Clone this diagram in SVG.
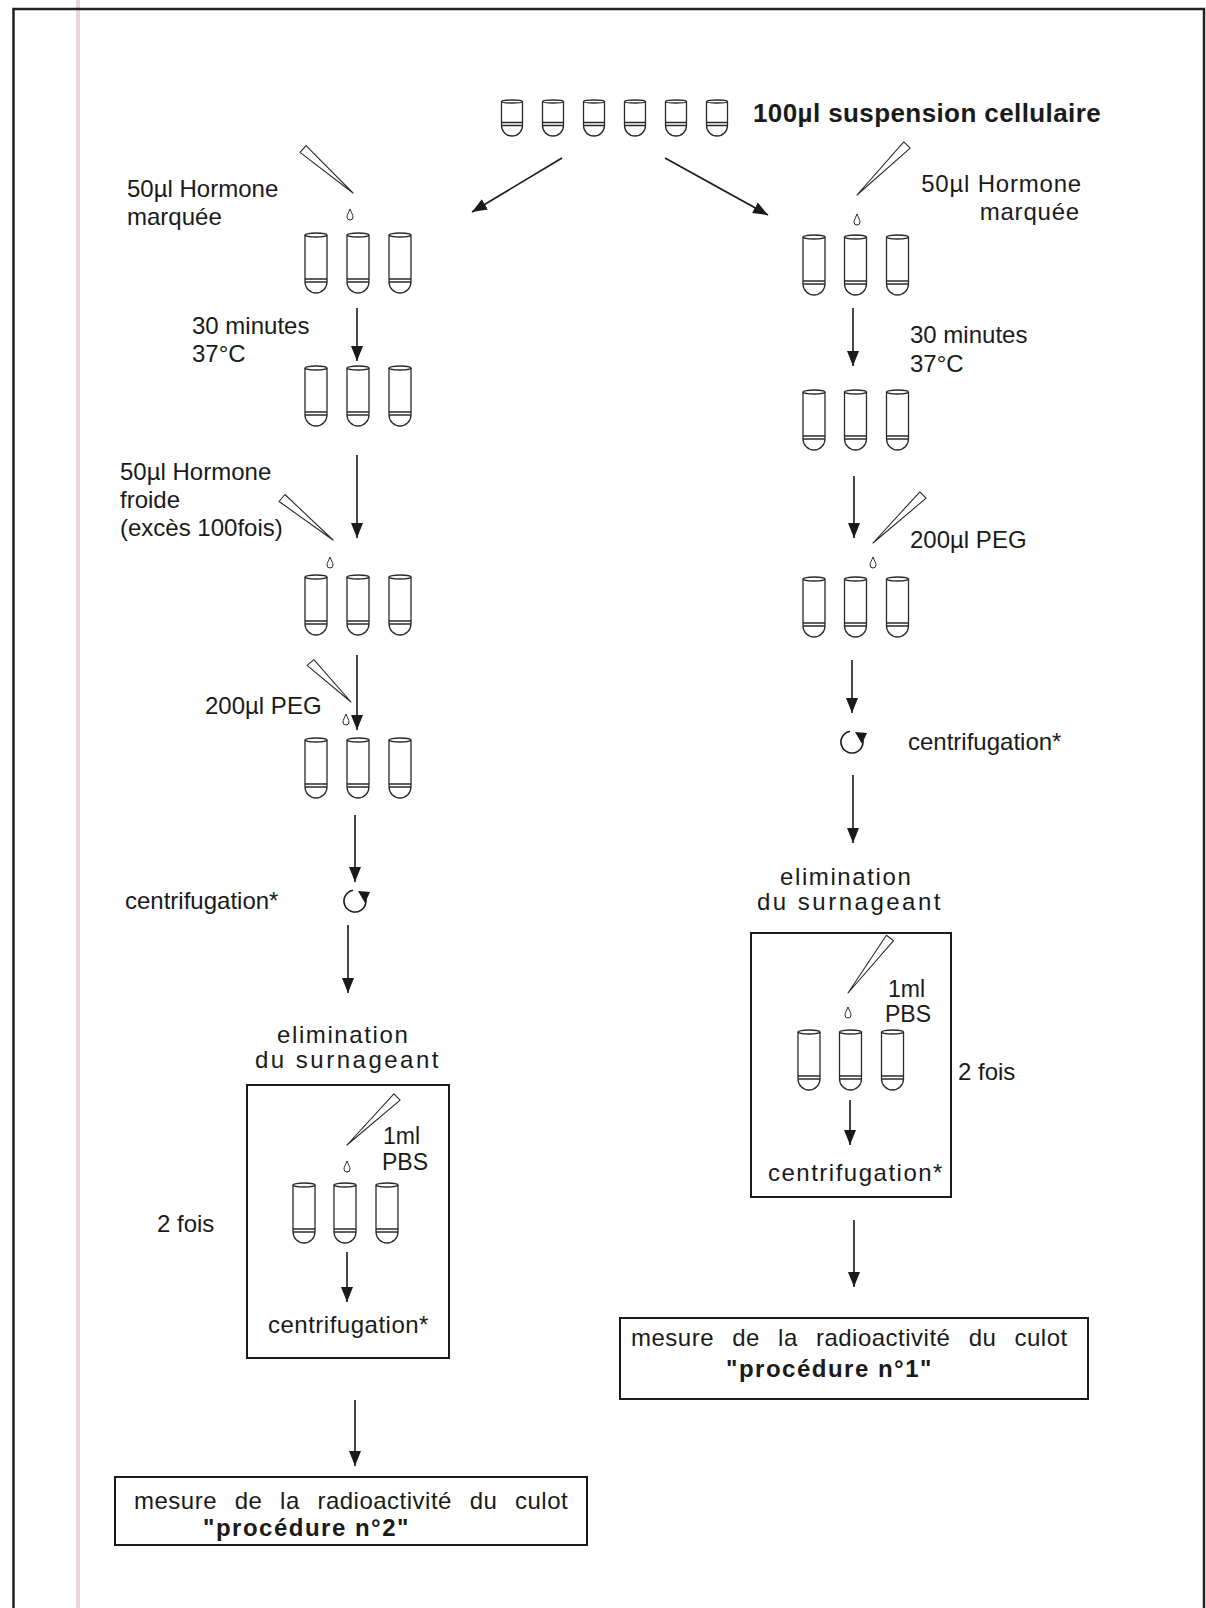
<svg xmlns="http://www.w3.org/2000/svg" xmlns:xlink="http://www.w3.org/1999/xlink" width="1206" height="1608" viewBox="0 0 1206 1608">
<style>
text{font-family:"Liberation Sans",Arial,sans-serif;font-size:24px;fill:#1a1a1a}
.b{font-weight:bold}
.s{font-size:23px}
.tube ellipse,.tube path{fill:none;stroke:#2a2a2a;stroke-width:1.3}
.pip{fill:#fff;stroke:#2a2a2a;stroke-width:1.1;stroke-linejoin:round}
.drop{fill:none;stroke:#2a2a2a;stroke-width:1}
.conn line,.conn path{stroke:#1a1a1a;stroke-width:1.6;fill:none}
.box{fill:none;stroke:#1a1a1a;stroke-width:2}
.cf{fill:none;stroke:#1a1a1a;stroke-width:1.6}
</style>
<defs>
<marker id="ah" markerUnits="userSpaceOnUse" markerWidth="16" markerHeight="12" refX="15" refY="6" orient="auto">
<path d="M0,0 L15,6 L0,12 Z" fill="#1a1a1a"/>
</marker>
<g id="tube" class="tube">
<ellipse cx="0" cy="2" rx="11" ry="2"/>
<path d="M-11,2 V49 A11,11 0 0 0 11,49 V2"/>
<path d="M-11,46 H11 M-11,49 H11"/>
</g>
<g id="tubeS" class="tube">
<ellipse cx="0" cy="1.5" rx="10.5" ry="1.5"/>
<path d="M-10.5,1.5 V25.5 A10.5,10.5 0 0 0 10.5,25.5 V1.5"/>
<path d="M-10.5,22.5 H10.5 M-10.5,25.5 H10.5"/>
</g>
<path id="drop" class="drop" d="M0,-6 C1.5,-2 3,0 3,2 A3,3 0 0 1 -3,2 C-3,0 -1.5,-2 0,-6 Z"/>
<g id="cfg">
<path class="cf" d="M8,-7.5 A11,11 0 1 1 -2,-10.8"/>
<path d="M3,-10 L15,-9 L10,2 Z" fill="#1a1a1a"/>
</g>
</defs>

<rect x="0" y="0" width="1206" height="1608" fill="#fff"/>
<rect x="76" y="0" width="4" height="1608" fill="#ead6d6"/>
<path d="M13.5,1608 V9 H1204 V1608" fill="none" stroke="#222" stroke-width="2.5"/>

<g id="start">
<use href="#tubeS" x="512" y="100"/>
<use href="#tubeS" x="553" y="100"/>
<use href="#tubeS" x="594" y="100"/>
<use href="#tubeS" x="635" y="100"/>
<use href="#tubeS" x="676" y="100"/>
<use href="#tubeS" x="717" y="100"/>
<text class="b" x="753" y="122" style="font-size:26px;letter-spacing:0.4px">100µl suspension cellulaire</text>
</g>

<g id="left-hormone">
<text x="127" y="197">50µl Hormone</text>
<text x="127" y="225">marquée</text>
<polygon class="pip" points="306,145.6 353,193 300,152.4"/>
<use href="#drop" x="350" y="215"/>
<use href="#tube" x="316" y="233"/>
<use href="#tube" x="358" y="233"/>
<use href="#tube" x="400" y="233"/>
</g>

<g id="left-incubation">
<text x="192" y="334">30 minutes</text>
<text x="192" y="362">37°C</text>
<use href="#tube" x="316" y="366"/>
<use href="#tube" x="358" y="366"/>
<use href="#tube" x="400" y="366"/>
</g>

<g id="left-froide">
<text x="120" y="480">50µl Hormone</text>
<text x="120" y="508">froide</text>
<text x="120" y="536">(excès 100fois)</text>
<polygon class="pip" points="284.9,494.5 333,540 279.1,501.5"/>
<use href="#drop" x="330" y="563"/>
<use href="#tube" x="316" y="575"/>
<use href="#tube" x="358" y="575"/>
<use href="#tube" x="400" y="575"/>
</g>

<g id="left-peg">
<text x="205" y="714">200µl PEG</text>
<polygon class="pip" points="313.9,659.6 351,702 307.1,665.4"/>
<use href="#drop" x="346" y="720"/>
<use href="#tube" x="316" y="738"/>
<use href="#tube" x="358" y="738"/>
<use href="#tube" x="400" y="738"/>
</g>

<g id="left-centrifugation">
<use href="#cfg" x="355" y="901"/>
<text x="125" y="909">centrifugation*</text>
</g>

<g id="left-elimination">
<text x="277" y="1043" style="letter-spacing:1.6px">elimination</text>
<text x="255" y="1068" style="letter-spacing:2.5px">du surnageant</text>
</g>

<g id="left-wash">
<rect class="box" x="247" y="1085" width="202" height="273"/>
<polygon class="pip" points="393.9,1093.8 347,1145 400.1,1100.2"/>
<text class="s" x="383" y="1144">1ml</text>
<text class="s" x="382" y="1170">PBS</text>
<use href="#drop" x="347" y="1167"/>
<use href="#tube" x="304" y="1183"/>
<use href="#tube" x="345" y="1183"/>
<use href="#tube" x="387" y="1183"/>
<text x="268" y="1333" style="letter-spacing:0.5px">centrifugation*</text>
<text x="157" y="1232">2 fois</text>
</g>

<g id="left-result">
<rect class="box" x="115" y="1477" width="472" height="68"/>
<text x="134" y="1509" style="letter-spacing:0.5px;word-spacing:10.5px">mesure de la radioactivité du culot</text>
<text class="b" x="203" y="1536" style="letter-spacing:1.5px">"procédure n°2"</text>
</g>

<g id="right-hormone">
<text x="1082" y="192" text-anchor="end" style="letter-spacing:0.8px">50µl Hormone</text>
<text x="1080" y="220" text-anchor="end" style="letter-spacing:0.8px">marquée</text>
<polygon class="pip" points="903.8,141.8 857,195 910.2,148.2"/>
<use href="#drop" x="857" y="220"/>
<use href="#tube" x="814" y="235"/>
<use href="#tube" x="855.5" y="235"/>
<use href="#tube" x="897.5" y="235"/>
</g>

<g id="right-incubation">
<text x="910" y="343">30 minutes</text>
<text x="910" y="372">37°C</text>
<use href="#tube" x="814" y="390"/>
<use href="#tube" x="855.5" y="390"/>
<use href="#tube" x="897.5" y="390"/>
</g>

<g id="right-peg">
<polygon class="pip" points="919.9,491.8 873,543 926.1,498.2"/>
<text x="910" y="548">200µl PEG</text>
<use href="#drop" x="873" y="563"/>
<use href="#tube" x="814" y="577"/>
<use href="#tube" x="855.5" y="577"/>
<use href="#tube" x="897.5" y="577"/>
</g>

<g id="right-centrifugation">
<use href="#cfg" x="852" y="742"/>
<text x="908" y="750">centrifugation*</text>
</g>

<g id="right-elimination">
<text x="780" y="885" style="letter-spacing:1.6px">elimination</text>
<text x="757" y="910" style="letter-spacing:2.5px">du surnageant</text>
</g>

<g id="right-wash">
<rect class="box" x="751" y="933" width="200" height="264"/>
<polygon class="pip" points="886.4,935.3 848,993 893.6,940.7"/>
<text class="s" x="888" y="997">1ml</text>
<text class="s" x="885" y="1022">PBS</text>
<use href="#drop" x="848" y="1013"/>
<use href="#tube" x="809" y="1030"/>
<use href="#tube" x="850.5" y="1030"/>
<use href="#tube" x="892.5" y="1030"/>
<text x="768" y="1181" style="letter-spacing:1.5px">centrifugation*</text>
<text x="958" y="1080">2 fois</text>
</g>

<g id="right-result">
<rect class="box" x="620" y="1318" width="468" height="81"/>
<text x="631" y="1346" style="letter-spacing:0.5px;word-spacing:11px">mesure de la radioactivité du culot</text>
<text class="b" x="726" y="1377" style="letter-spacing:1.5px">"procédure n°1"</text>
</g>

<g id="connectors" class="conn">
<line x1="562" y1="158" x2="472" y2="212" marker-end="url(#ah)"/>
<line x1="665" y1="158" x2="768" y2="215" marker-end="url(#ah)"/>
<line x1="357" y1="308" x2="357" y2="361" marker-end="url(#ah)"/>
<line x1="357" y1="455" x2="357" y2="538" marker-end="url(#ah)"/>
<line x1="357" y1="655" x2="357" y2="730" marker-end="url(#ah)"/>
<line x1="355" y1="815" x2="355" y2="882" marker-end="url(#ah)"/>
<line x1="348" y1="925" x2="348" y2="993" marker-end="url(#ah)"/>
<line x1="347" y1="1252" x2="347" y2="1302" marker-end="url(#ah)"/>
<line x1="355" y1="1400" x2="355" y2="1466" marker-end="url(#ah)"/>
<line x1="853" y1="308" x2="853" y2="366" marker-end="url(#ah)"/>
<line x1="854" y1="476" x2="854" y2="538" marker-end="url(#ah)"/>
<line x1="852" y1="660" x2="852" y2="713" marker-end="url(#ah)"/>
<line x1="853" y1="775" x2="853" y2="843" marker-end="url(#ah)"/>
<line x1="850" y1="1100" x2="850" y2="1145" marker-end="url(#ah)"/>
<line x1="854" y1="1220" x2="854" y2="1287" marker-end="url(#ah)"/>
</g>
</svg>
